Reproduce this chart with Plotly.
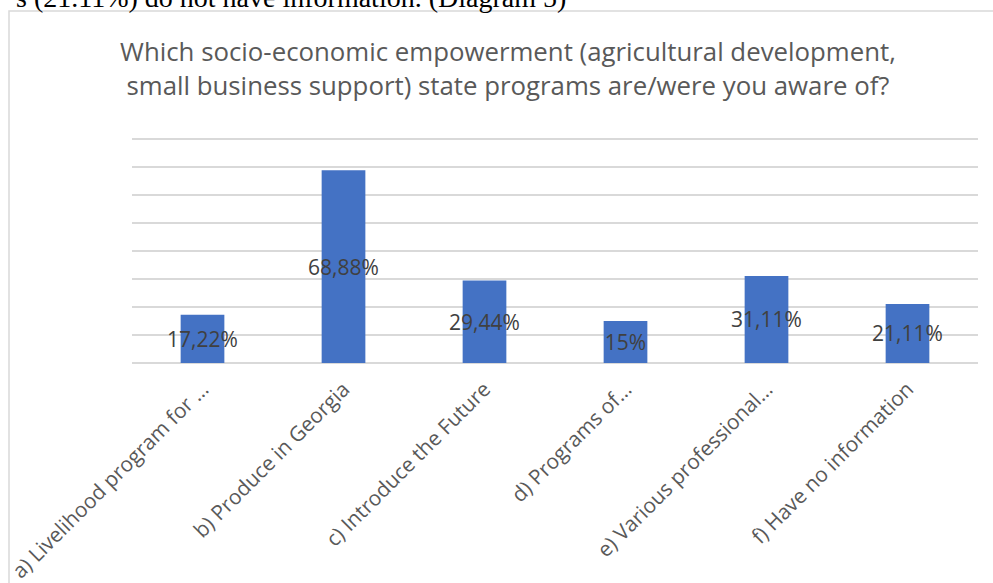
import plotly.graph_objects as go

categories = [
    "a) Livelihood program for …",
    "b) Produce in Georgia",
    "c) Introduce the Future",
    "d) Programs of…",
    "e) Various professional…",
    "f) Have no information",
]
values = [17.22, 68.88, 29.44, 15.0, 31.11, 21.11]
labels = [("%g" % v).replace(".", ",") + "%" for v in values]

title_text = ("Which socio-economic empowerment (agricultural development,<br>"
              "small business support) state programs are/were you aware of?")
caption_text = "s (21.11%) do not have information. (Diagram 5)"

W, H = 993, 583
L, R, T, B = 132, 15, 138, 220
pw, ph = W - L - R, H - T - B


def px_x(x):
    return (x - L) / pw


def px_y(y):
    return (H - B - y) / ph


fig = go.Figure(
    go.Bar(
        x=categories,
        y=values,
        marker=dict(color="#4472C4", line=dict(width=0)),
        text=labels,
        textposition="inside",
        insidetextanchor="middle",
        constraintext="none",
        textangle=0,
        insidetextfont=dict(family="Open Sans", size=21, color="#404040"),
        cliponaxis=False,
        width=0.31,
    )
)

fig.update_layout(
    width=W,
    height=H,
    margin=dict(l=L, r=R, t=T, b=B, autoexpand=False),
    paper_bgcolor="white",
    plot_bgcolor="white",
    showlegend=False,
    title=dict(
        text=title_text,
        x=508 / W,
        xref="container",
        xanchor="center",
        y=1 - 61 / H,
        yref="container",
        yanchor="top",
        font=dict(family="Open Sans", size=25.8, color="#595959"),
    ),
    xaxis=dict(
        tickangle=-45,
        tickfont=dict(family="Open Sans", size=20.8, color="#595959"),
        ticklabelstandoff=9,
        showline=False,
        showgrid=False,
        ticks="",
        automargin=False,
    ),
    yaxis=dict(
        range=[0, 80.4],
        dtick=10,
        showticklabels=False,
        showgrid=True,
        gridcolor="#d9d9d9",
        gridwidth=1.5,
        zeroline=True,
        zerolinecolor="#d9d9d9",
        zerolinewidth=1.5,
        showline=False,
        ticks="",
        automargin=False,
    ),
    shapes=[
        dict(
            type="rect",
            xref="paper",
            yref="paper",
            x0=px_x(9),
            x1=px_x(1005),
            y0=px_y(600),
            y1=px_y(11),
            line=dict(color="#d9d9d9", width=1.5),
            fillcolor="rgba(0,0,0,0)",
            layer="below",
        )
    ],
    annotations=[
        dict(
            text=caption_text,
            xref="paper",
            yref="paper",
            x=px_x(568),
            y=px_y(15),
            xanchor="right",
            yanchor="bottom",
            showarrow=False,
            font=dict(family="Liberation Serif", size=28, color="black"),
        )
    ],
)

fig.write_html(
    "out.html",
    config={"displayModeBar": False},
    post_script="document.body.style.margin='0';document.body.style.overflow='hidden';",
)
